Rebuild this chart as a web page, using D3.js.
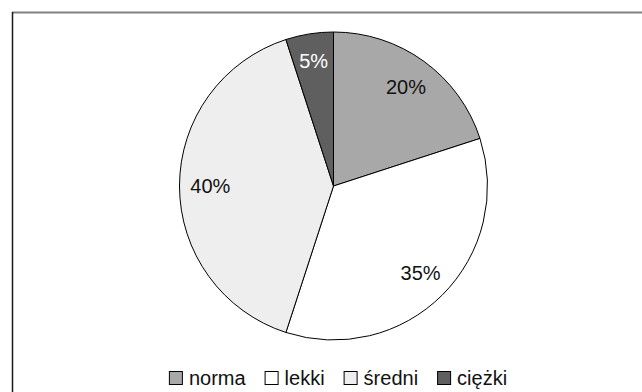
<!DOCTYPE html>
<html>
<head>
<meta charset="utf-8">
<script src="https://cdn.jsdelivr.net/npm/d3@7"></script>
<style>
  html, body { margin: 0; padding: 0; background: #fff; }
  svg { display: block; }
  text { font-family: "Liberation Sans", Arial, sans-serif; }
</style>
</head>
<body>
<svg id="chart" width="642" height="392"></svg>
<script>
// Share of each group (percent), clockwise from 12 o'clock
const categories = ["norma", "lekki", "średni", "ciężki"];
const values = [20, 35, 40, 5];
const labels = ["20%", "35%", "40%", "5%"];
const colors = ["#a8a8a8", "#ffffff", "#eeeeee", "#5f5f5f"];
const labelColors = ["#111", "#111", "#111", "#fff"];

const svg = d3.select("#chart");
const W = 642, H = 392;

// chart frame (top and left edges visible)
svg.append("line").attr("x1", 12).attr("x2", W).attr("y1", 12.5).attr("y2", 12.5)
  .attr("stroke", "#808080").attr("stroke-width", 2);
svg.append("line").attr("x1", 12.5).attr("x2", 12.5).attr("y1", 12).attr("y2", H)
  .attr("stroke", "#1a1a1a").attr("stroke-width", 1.5);

const cx = 333.5, cy = 186, r = 154;
const g = svg.append("g").attr("transform", `translate(${cx},${cy})`);

const pie = d3.pie().sort(null).value(d => d)(values);
const arc = d3.arc().innerRadius(0).outerRadius(r);
const labelArc = d3.arc().innerRadius(r * 0.8).outerRadius(r * 0.8);

g.selectAll("path.slice").data(pie).enter().append("path")
  .attr("class", "slice")
  .attr("d", arc)
  .attr("fill", (d, i) => colors[i])
  .attr("stroke", "#000")
  .attr("stroke-width", 1)
  .attr("stroke-linejoin", "round");

g.selectAll("text.val").data(pie).enter().append("text")
  .attr("class", "val")
  .attr("transform", (d, i) => {
    const c = labelArc.centroid(d);
    const k = i === 3 ? 1.03 : 1; // thin slice: label sits a bit further out
    return `translate(${c[0] * k},${c[1] * k})`;
  })
  .attr("text-anchor", "middle")
  .attr("dy", "0.36em")
  .attr("font-size", 20)
  .attr("fill", (d, i) => labelColors[i])
  .text((d, i) => labels[i]);

// legend: items laid out by their text widths, centred under the pie
const box = 13, gapText = 7, gapItem = 19;
const lg = svg.append("g");
const item = lg.selectAll("g").data(categories).enter().append("g");
item.append("rect").attr("x", 0.5).attr("y", 0.5).attr("width", box).attr("height", box)
  .attr("fill", (d, i) => colors[i]).attr("stroke", "#000").attr("stroke-width", 1);
item.append("text").attr("x", box + gapText).attr("y", 7).attr("dy", "0.36em")
  .attr("font-size", 20).attr("fill", "#111").text(d => d);

let x = 0;
const offsets = [];
item.each(function () {
  offsets.push(x);
  const tw = d3.select(this).select("text").node().getComputedTextLength();
  x += box + gapText + tw + gapItem;
});
const total = x - gapItem;
const startX = 338 - total / 2;
item.attr("transform", (d, i) => `translate(${startX + offsets[i]},371)`);
</script>
</body>
</html>
